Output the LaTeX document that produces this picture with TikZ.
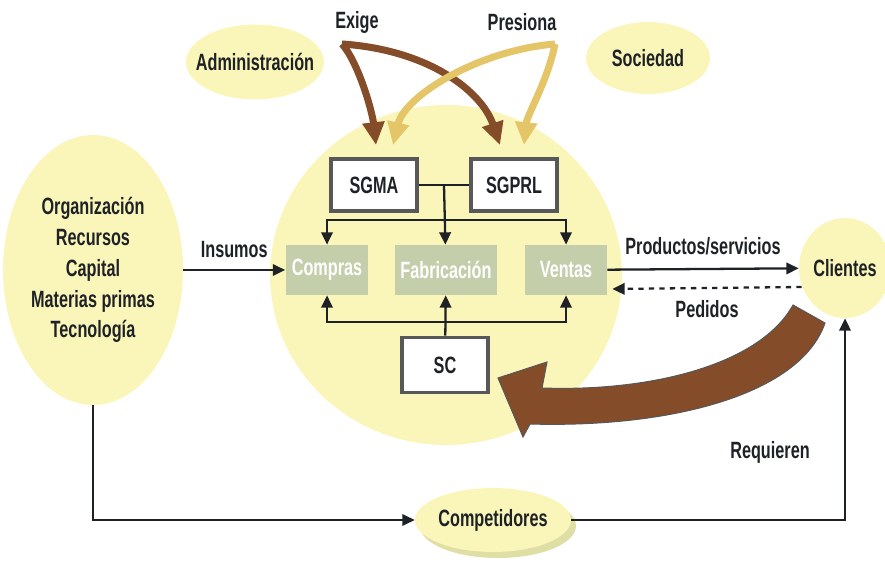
\documentclass[tikz,border=0pt]{standalone}
\usepackage{fontspec}
\setmainfont{Liberation Sans}[FakeStretch=0.69]
\usetikzlibrary{shapes.geometric, arrows.meta, positioning, calc, shadows}
\definecolor{crema}{RGB}{250,246,185}
\definecolor{marron}{RGB}{132,76,40}
\definecolor{ocre}{RGB}{228,198,105}
\definecolor{verdegris}{RGB}{196,206,170}
\definecolor{tinta}{RGB}{30,34,38}
\definecolor{gris}{RGB}{88,88,88}
\definecolor{sombra}{RGB}{222,222,165}

\begin{document}
\begin{tikzpicture}[x=0.02cm, y=-0.02cm,
  every node/.style={font=\fontsize{13.4}{17.6}\selectfont\bfseries, text=tinta},
  globo/.style={ellipse, fill=crema, inner sep=0pt},
  caja/.style={draw=gris, line width=2.2pt, fill=white, minimum width=1.72cm, minimum height=1.04cm},
  area/.style={fill=verdegris, text=white, minimum height=1cm},
  flecha/.style={draw=tinta, line width=1.3pt, -{Triangle[length=7pt, width=6.5pt]}},
  linea/.style={draw=tinta, line width=1.3pt},
  curva/.style={line width=4pt, -{Triangle[length=13pt, width=12pt]}}
]
  \useasboundingbox (0,0) rectangle (885,573);

  \node[globo, minimum width=7.04cm, minimum height=6.8cm] (nucleo) at (446,275) {};
  \node[globo, minimum width=2.76cm, minimum height=1.5cm, inner xsep=-0.3cm] (admin) at (255,62) {Administración};
  \node[globo, minimum width=2.48cm, minimum height=1.44cm] (sociedad) at (648,58) {Sociedad};
  \node[globo, minimum width=3.6cm, minimum height=5.4cm, inner xsep=-0.1cm, align=center] (recursos) at (93,270)
    {Organización\\Recursos\\Capital\\Materias primas\\Tecnología};
  \node[globo, minimum width=1.84cm, minimum height=2cm] (clientes) at (845,268) {Clientes};
  \node[globo, minimum width=3.12cm, minimum height=1.28cm,
    drop shadow={fill=sombra, opacity=1, shadow xshift=0.1cm, shadow yshift=-0.12cm}] (competidores) at (493,520) {Competidores};

  \node[caja] (sgma) at (374,185) {SGMA};
  \node[caja] (sgprl) at (514,185) {SGPRL};
  \node[caja, minimum height=1.1cm] (sc) at (445,365) {SC};

  \node[area, minimum width=1.66cm] (compras) at (327,270) {Compras};
  \node[area, minimum width=2.06cm] (fabricacion) at (446,270) {Fabricación};
  \node[area, minimum width=1.64cm] (ventas) at (566,270) {Ventas};

  \node (exige) at (357,22) {Exige};
  \node (presiona) at (522,22) {Presiona};
  \node (requieren) at (770,452) {Requieren};

  \draw[curva, marron] (342,44) .. controls (358,62) and (372,110) .. ($(sgma.north)+(2,-12)$);
  \draw[curva, marron] (342,44) .. controls (430,50) and (482,92) .. ($(sgprl.north)+(-14,-12)$);
  \draw[curva, ocre] (555,44) .. controls (480,50) and (405,95) .. ($(sgma.north)+(19,-12)$);
  \draw[curva, ocre] (555,44) .. controls (548,80) and (527,115) .. ($(sgprl.north)+(10,-12)$);

  \coordinate (enlace) at ($(sgma.east)!0.5!(sgprl.west)$);
  \coordinate (bus) at (446,220);
  \coordinate (base) at (446,322);
  \draw[linea] (sgma) -- (sgprl);
  \draw[flecha] (enlace) -- (fabricacion);
  \draw[flecha] (bus) -| (compras);
  \draw[flecha] (bus) -| (ventas);
  \draw[flecha] (base) -| (compras);
  \draw[flecha] (base) -| (ventas);
  \draw[flecha] (sc) -- (fabricacion);

  \draw[flecha] (recursos) -- (compras) node[midway, above=3pt] {Insumos};
  \draw[flecha] (ventas) -- (clientes) node[midway, above=4pt] {Productos/servicios};
  \draw[flecha, dashed] ($(clientes.west)+(3,19)$) -- ($(ventas.east)+(5,19)$) node[midway, below=3pt] {Pedidos};
  \draw[flecha] (recursos) |- (competidores);
  \draw[flecha] (competidores) -| (clientes);

  \filldraw[fill=marron, draw=gris, line width=0.6pt] (498,378) -- (547,362) -- (542,388)
    .. controls (650,392) and (760,365) .. (793,305) -- (825,323)
    .. controls (800,395) and (670,428) .. (530,424) -- (523,437) -- cycle;
\end{tikzpicture}
\end{document}
